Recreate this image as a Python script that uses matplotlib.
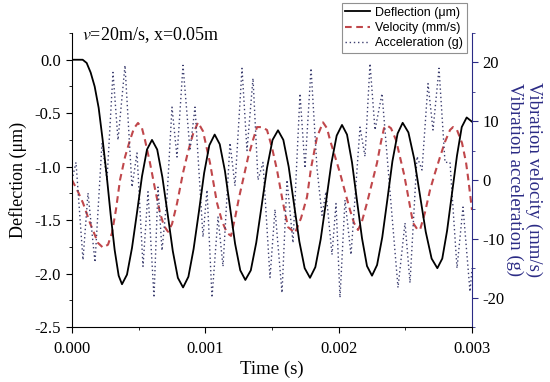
import matplotlib
matplotlib.use('Agg')
import matplotlib.pyplot as plt
from matplotlib.ticker import MultipleLocator, FormatStrFormatter

# deflection (um), left axis
defl_t = [0, 0.00008, 0.00011, 0.00014, 0.00017, 0.0002, 0.00023, 0.00026, 0.00029, 0.00032, 0.00035, 0.000375,
          0.0004125, 0.00045, 0.0004875, 0.000525, 0.0005625, 0.0006,
          0.000639, 0.000678, 0.000717, 0.000756, 0.000794, 0.000833,
          0.000873, 0.000912, 0.000952, 0.000991, 0.00103, 0.00107,
          0.001108, 0.001147, 0.001185, 0.001223, 0.001262, 0.0013,
          0.001341, 0.001382, 0.001423, 0.001463, 0.001504, 0.001545,
          0.001585, 0.001625, 0.001665, 0.001705, 0.001745, 0.001785,
          0.001825, 0.001865, 0.001905, 0.001945, 0.001985, 0.002025,
          0.0020625, 0.0021, 0.0021375, 0.002175, 0.0022125, 0.00225,
          0.002288, 0.002327, 0.002365, 0.002403, 0.002442, 0.00248,
          0.002523, 0.002567, 0.00261, 0.002653, 0.002697, 0.00274,
          0.002777, 0.002813, 0.00285, 0.002887, 0.002923, 0.00296, 0.003]
defl = [0, 0, -0.03, -0.12, -0.25, -0.45, -0.75, -1.08, -1.45, -1.78, -2.02, -2.10,
        -2.01, -1.76, -1.43, -1.09, -0.84, -0.75,
        -0.84, -1.10, -1.44, -1.79, -2.04, -2.13,
        -2.03, -1.77, -1.42, -1.06, -0.80, -0.70,
        -0.79, -1.04, -1.38, -1.72, -1.97, -2.06,
        -1.97, -1.71, -1.36, -1.01, -0.75, -0.66,
        -0.75, -1.00, -1.35, -1.70, -1.95, -2.04,
        -1.94, -1.68, -1.33, -0.97, -0.71, -0.61,
        -0.70, -0.96, -1.32, -1.67, -1.93, -2.02,
        -1.92, -1.66, -1.31, -0.95, -0.69, -0.59,
        -0.68, -0.93, -1.27, -1.61, -1.86, -1.95,
        -1.86, -1.60, -1.25, -0.90, -0.63, -0.54, -0.58]

# velocity (mm/s), right axis
vel_t = [0, 0.000045, 0.0000825, 0.000135, 0.000195, 0.0002325, 0.00027, 0.0003, 0.00033, 0.00036,
         0.0003975, 0.000435, 0.000465, 0.000495, 0.000525, 0.0005475, 0.000585, 0.0006225, 0.00066,
         0.00069, 0.00072, 0.00075, 0.0007875, 0.0008325, 0.00087, 0.0009075, 0.000945, 0.0009825,
         0.001035, 0.0010875, 0.001125, 0.0011625, 0.0011925, 0.0012225, 0.0012525, 0.0012825,
         0.00132, 0.0013575, 0.0013875, 0.001425, 0.0014625, 0.0015, 0.0015375, 0.0015825, 0.00162,
         0.0016725, 0.0017175, 0.0017625, 0.0017925, 0.0018375, 0.0018825, 0.0019125, 0.001935,
         0.0019725, 0.00201, 0.0020475, 0.002085, 0.002115, 0.002145, 0.002175, 0.0022125, 0.00225,
         0.0022875, 0.0023175, 0.00234, 0.0023625, 0.0023925, 0.00243, 0.00246, 0.00249, 0.0025125,
         0.002535, 0.0025575, 0.0025875, 0.00261, 0.0026475, 0.002685, 0.0027225, 0.00276, 0.0027975,
         0.002835, 0.0028575, 0.0028875, 0.0029250, 0.002955, 0.00297, 0.003]
vel = [0, -2, -3.9, -7.3, -10.7, -11.5, -11, -9, -5, 0,
       3.9, 6.8, 8.8, 9.7, 8.8, 6.8, 2.9, -1.5, -5.6,
       -7.8, -8.8, -7.5, -4, 1.2, 4.8, 7.8, 9.8, 8.3,
       2.9, -3.9, -7, -9.0, -9.5, -6.5, -3, 0,
       3.8, 6.8, 9.0, 9.0, 8.5, 5.5, 1.7, -3.9, -8,
       -9.0, -6.5, -2.9, 2, 7.3, 9.8, 8.8, 6.8,
       4, 1.2, -2, -5.1, -7.3, -8.5, -7, -3.9, -0.5,
       2.9, 6.5, 8.8, 9.3, 8.8, 6.8, 3.9, 1, -1.7,
       -4.5, -7.3, -8.3, -8.5, -5.5, -1.7, 1.2, 3.9, 6.5,
       8.5, 9.0, 8.5, 6.3, 3, 0.5, -5.1]

# acceleration (g), right axis
acc_t = [0, 0.00003, 0.0000825, 0.00012, 0.0001725, 0.000225, 0.0002625, 0.0003075, 0.000345, 0.0003975,
         0.00045, 0.0004875, 0.0005325, 0.00057, 0.000615, 0.000645, 0.000675, 0.0007125, 0.00075,
         0.0007875, 0.0008325, 0.000885, 0.0009225, 0.0009825, 0.0010125, 0.00105, 0.001095, 0.0011325,
         0.001185, 0.0012225, 0.001275, 0.0013125, 0.0013575, 0.001395, 0.0014325, 0.001485, 0.0015225,
         0.001575, 0.0016125, 0.0016575, 0.00171, 0.0017475, 0.0017925, 0.0018375, 0.001875, 0.001905,
         0.00195, 0.00198, 0.00201, 0.0020475, 0.0020925, 0.00216, 0.0021975, 0.002235, 0.0022725,
         0.002325, 0.002385, 0.002445, 0.0024975, 0.002535, 0.0025875, 0.002625, 0.00267, 0.0027075,
         0.0027525, 0.0027975, 0.002835, 0.0028875, 0.0029325, 0.002985, 0.003]
acc = [0, 3, -13.6, -2.2, -14, 6.3, 0, 18.3, 6.8, 19.5,
       -1.2, 4.6, -14.7, -2, -20, -1.2, -12, -3, 12.4,
       3.9, 19.5, 5, 12.4, -9.7, -1.7, -20, -6.3, -14.7,
       6.3, -1, 19, 5, 17.3, 0, 3, -16.6, -5,
       -19.2, 0, -10.7, 14.7, 2, 19, 2, -6, -2,
       -12.7, -4, -20, -3.4, -12.7, 9, 4, 19.8, 8.5,
       14.7, -2, -18.3, -7.3, -17.5, 4, 1.7, 16.4, 8.5,
       19, 3, 3, -15, -4.6, -19, -15]

navy = '#2b2b85'

plt.rcParams['font.family'] = 'Liberation Serif'
plt.rcParams['mathtext.fontset'] = 'stix'
plt.rcParams['axes.unicode_minus'] = False

fig = plt.figure(figsize=(5.5, 3.82), dpi=100)
ax = fig.add_axes([0.1309, 0.144, 0.7273, 0.7696])
ax2 = ax.twinx()

# deflection drawn above the other two curves
ax.set_zorder(ax2.get_zorder() + 1)
ax.patch.set_visible(False)

l1, = ax.plot(defl_t, defl, color='black', lw=1.3, label='Deflection (\u03bcm)')
l2, = ax2.plot(vel_t, vel, color='#c0474b', lw=1.5, dashes=(3.2, 2.2), label='Velocity (mm/s)')
l3, = ax2.plot(acc_t, acc, color='#3d3f70', lw=1.0, linestyle=(0, (1, 2)), label='Acceleration (g)')

ax.set_xlim(0, 0.003)
ax.set_ylim(-2.5, 0.25)
ax2.set_ylim(-25, 25)

ax.xaxis.set_major_locator(MultipleLocator(0.001))
ax.xaxis.set_minor_locator(MultipleLocator(0.0005))
ax.xaxis.set_major_formatter(FormatStrFormatter('%.3f'))
ax.yaxis.set_major_locator(MultipleLocator(0.5))
ax.yaxis.set_minor_locator(MultipleLocator(0.25))
ax.yaxis.set_major_formatter(FormatStrFormatter('%.1f'))
ax2.yaxis.set_major_locator(MultipleLocator(10))
ax2.yaxis.set_minor_locator(MultipleLocator(5))

for a in (ax, ax2):
    a.spines['top'].set_visible(False)
ax.spines['right'].set_visible(False)
ax2.spines['left'].set_visible(False)
ax2.spines['bottom'].set_visible(False)
ax2.spines['right'].set_color(navy)

ax.tick_params(which='major', direction='out', length=4, labelsize=12, pad=4)
ax.tick_params(which='minor', direction='out', length=2.5)
ax.tick_params(axis='x', which='major', pad=6)
ax2.tick_params(which='major', direction='out', length=4, labelsize=12, color=navy, labelcolor='black')
ax2.tick_params(which='minor', direction='out', length=2.5, color=navy)

ax.set_xlabel('Time (s)', fontsize=13.5, labelpad=3)
ax.set_ylabel('Deflection (\u03bcm)', fontsize=13, labelpad=5)
ax2.set_ylabel('Vibration velocity (mm/s)\nVibration acceleration (g)', fontsize=13.5,
               rotation=270, va='bottom', color=navy, linespacing=1.15, labelpad=1)

ax.text(0.025, 0.975, r'$v$=20m/s, x=0.05m', transform=ax.transAxes, fontsize=13, va='baseline')

leg = fig.legend(handles=[l1, l2, l3], loc='upper right', bbox_to_anchor=(467 / 550, 1 - 3 / 382),
                 prop={'family': 'Liberation Sans', 'size': 9}, fancybox=False, framealpha=1,
                 edgecolor='#909090', borderpad=0.3, labelspacing=0.25, handlelength=2.0,
                 handletextpad=0.4, borderaxespad=0)
leg.get_frame().set_linewidth(0.8)

fig.savefig('out.png', dpi=100)
